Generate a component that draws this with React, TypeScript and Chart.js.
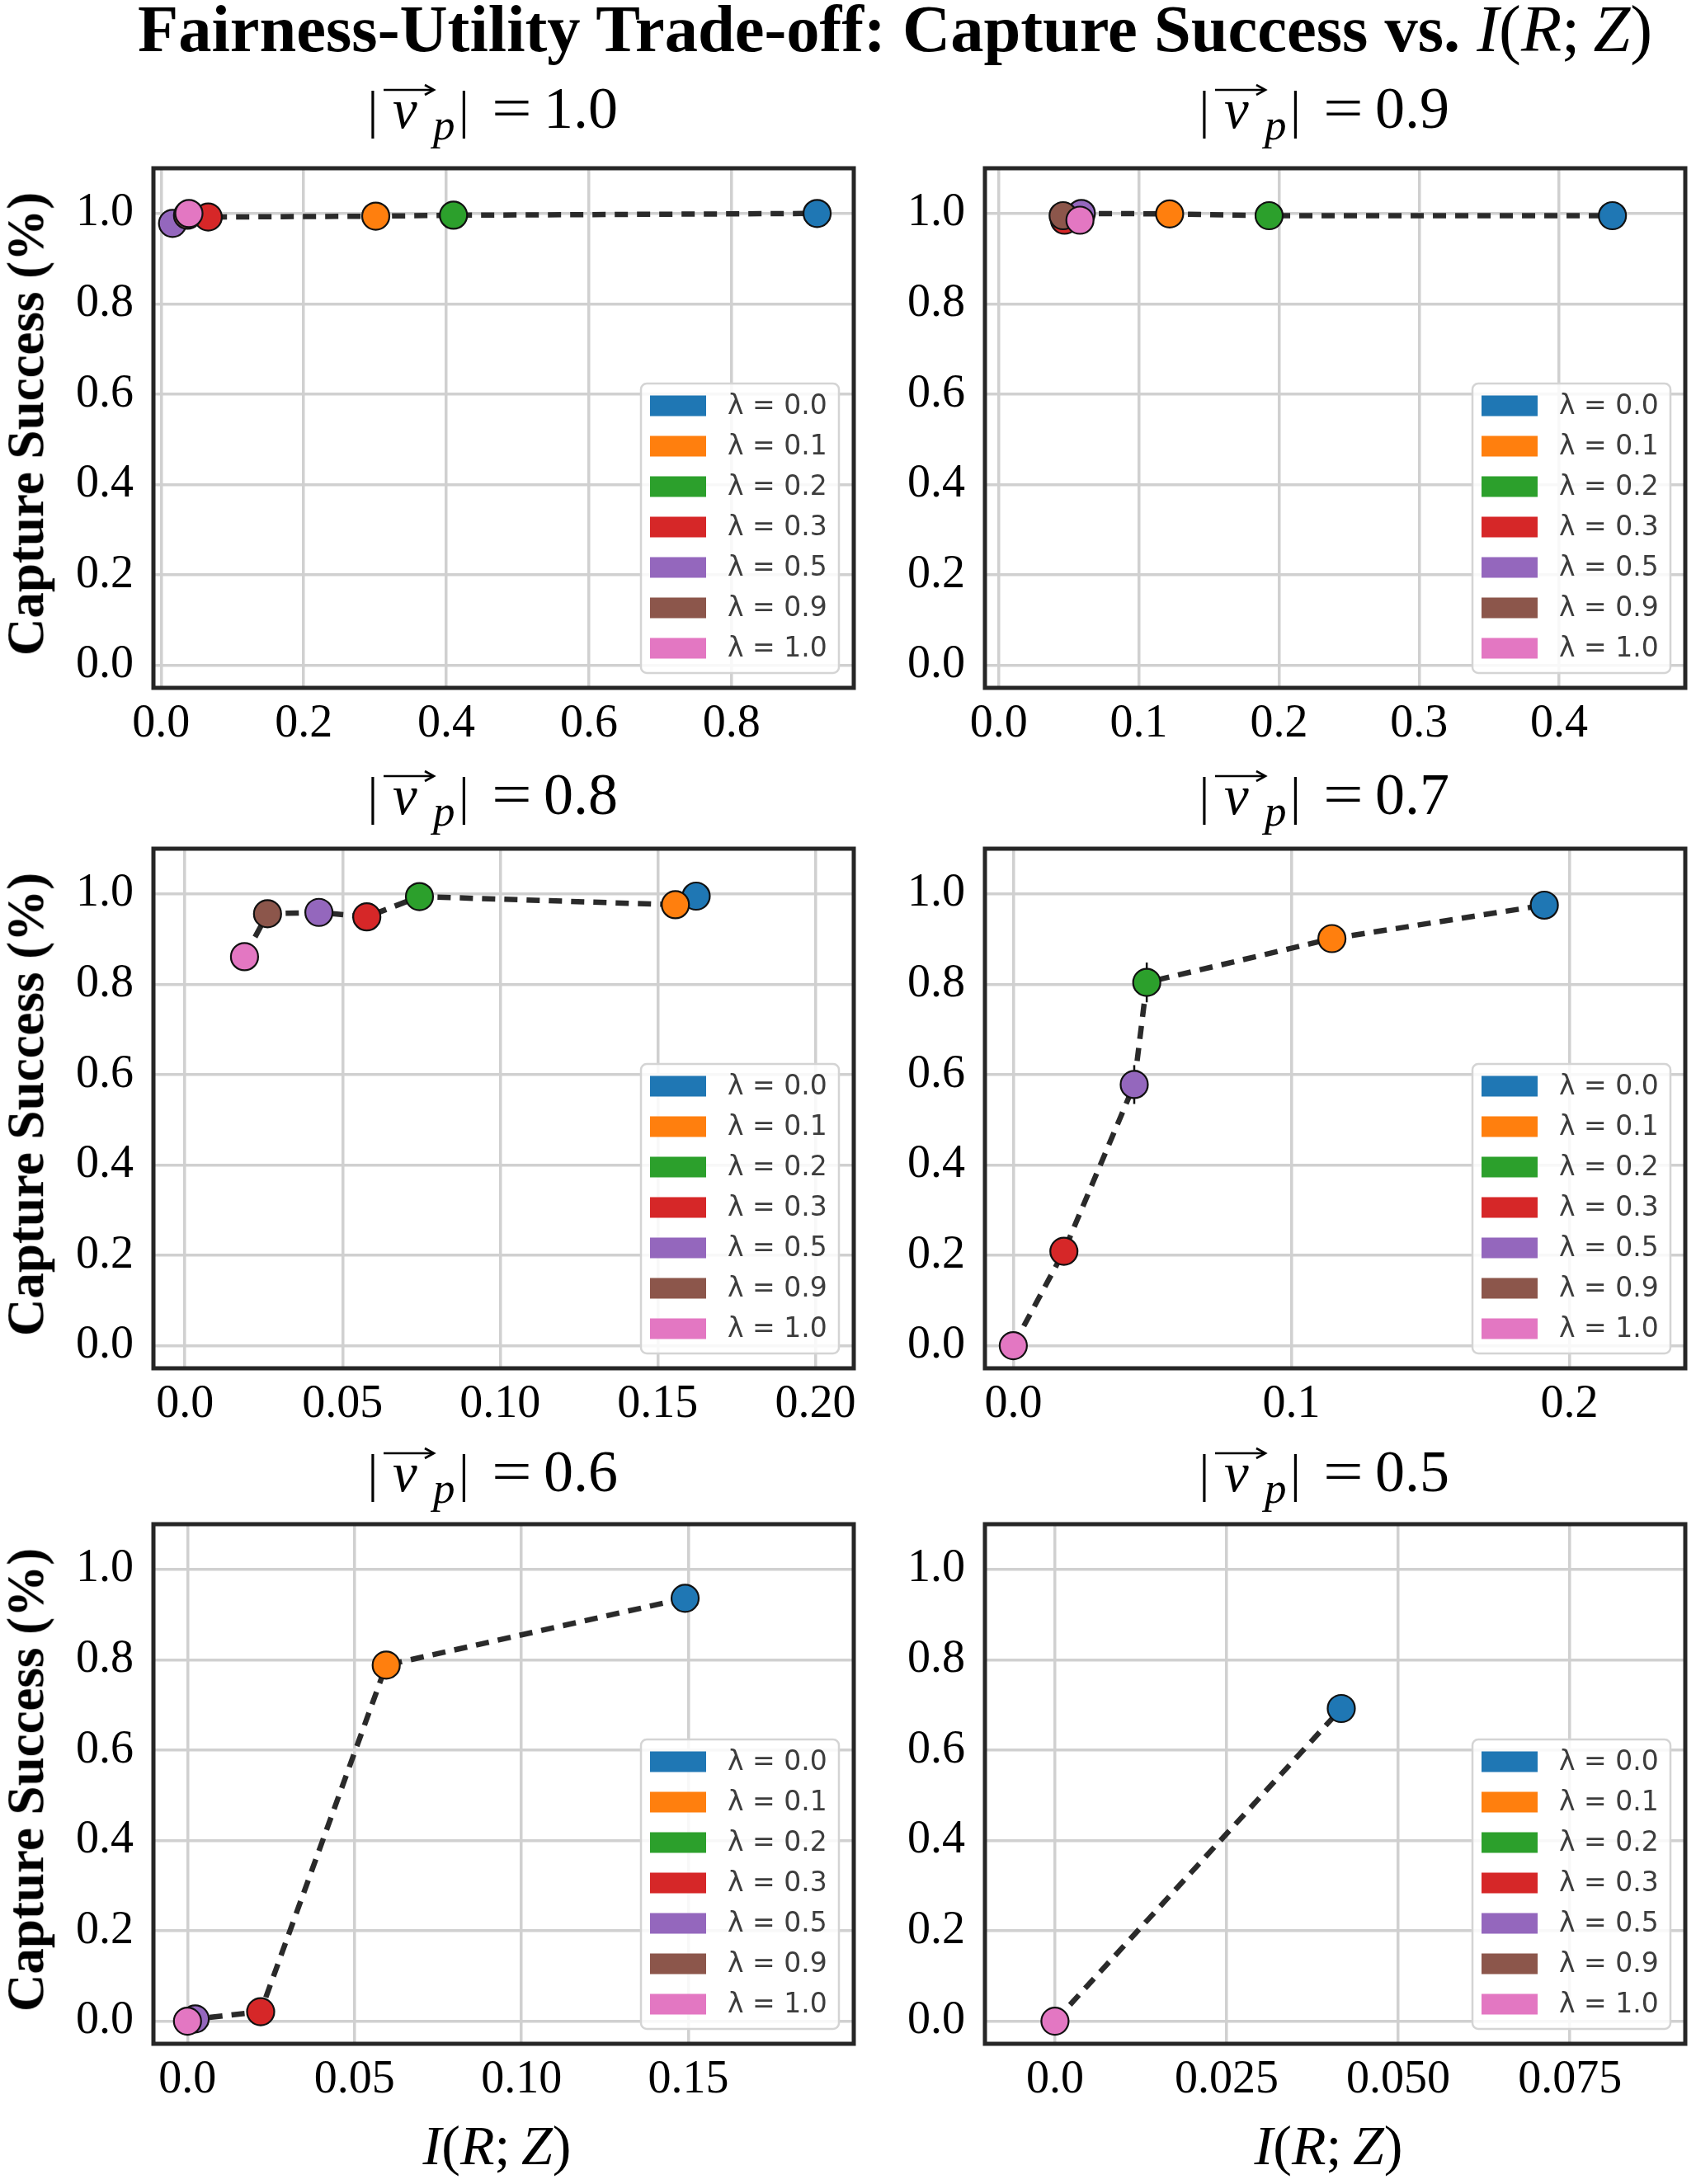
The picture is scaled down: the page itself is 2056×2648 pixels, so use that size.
import React, { useEffect, useRef } from "react";
import { Chart, registerables } from "chart.js";

Chart.register(...registerables);

const SERIF = "'Liberation Serif', 'Times New Roman', serif";
const SANS = "'DejaVu Sans', sans-serif";

// one entry per lambda setting, in plotting order
const lambdaLabels = ["λ = 0.0", "λ = 0.1", "λ = 0.2", "λ = 0.3", "λ = 0.5", "λ = 0.9", "λ = 1.0"];
const lambdaColors = ["#1f77b4", "#ff7f0e", "#2ca02c", "#d62728", "#9467bd", "#8c564b", "#e377c2"];

// |v_p| = 1.0
const v10X = [0.92, 0.301, 0.41, 0.066, 0.016, 0.037, 0.039];
const v10Y = [1.0, 0.994, 0.996, 0.992, 0.978, 0.996, 1.0];
const v10Err = [0, 0, 0, 0, 0, 0, 0];
// |v_p| = 0.9
const v09X = [0.438, 0.122, 0.193, 0.047, 0.059, 0.046, 0.058];
const v09Y = [0.995, 0.999, 0.995, 0.985, 1.0, 0.995, 0.985];
const v09Err = [0, 0, 0, 0, 0, 0, 0];
// |v_p| = 0.8
const v08X = [0.1622, 0.1556, 0.0744, 0.0577, 0.0425, 0.0262, 0.0189];
const v08Y = [0.995, 0.976, 0.994, 0.949, 0.959, 0.956, 0.861];
const v08Err = [0, 0, 0, 0, 0, 0, 0];
// |v_p| = 0.7
const v07X = [0.191, 0.1146, 0.048, 0.0182, 0.0435, null, 0.0];
const v07Y = [0.975, 0.901, 0.804, 0.209, 0.578, null, 0.0];
const v07Err = [0, 0, 0.044, 0, 0.043, 0, 0];
// |v_p| = 0.6
const v06X = [0.149, 0.0595, null, 0.0219, 0.0023, null, 0.0];
const v06Y = [0.936, 0.788, null, 0.021, 0.005, null, 0.0];
const v06Err = [0, 0, 0, 0, 0, 0, 0];
// |v_p| = 0.5
const v05X = [0.0417, null, null, null, null, null, 0.0];
const v05Y = [0.692, null, null, null, null, null, 0.0];
const v05Err = [0, 0, 0, 0, 0, 0, 0];

const yTicks = [0, 0.2, 0.4, 0.6, 0.8, 1.0];
const yTickLabels = ["0.0", "0.2", "0.4", "0.6", "0.8", "1.0"];

const xTicks10 = [0, 0.2, 0.4, 0.6, 0.8];
const xTickLabels10 = ["0.0", "0.2", "0.4", "0.6", "0.8"];
const xTicks09 = [0, 0.1, 0.2, 0.3, 0.4];
const xTickLabels09 = ["0.0", "0.1", "0.2", "0.3", "0.4"];
const xTicks08 = [0, 0.05, 0.1, 0.15, 0.2];
const xTickLabels08 = ["0.0", "0.05", "0.10", "0.15", "0.20"];
const xTicks07 = [0, 0.1, 0.2];
const xTickLabels07 = ["0.0", "0.1", "0.2"];
const xTicks06 = [0, 0.05, 0.1, 0.15];
const xTickLabels06 = ["0.0", "0.05", "0.10", "0.15"];
const xTicks05 = [0, 0.025, 0.05, 0.075];
const xTickLabels05 = ["0.0", "0.025", "0.050", "0.075"];

type Panel = {
  speed: string;
  xs: (number | null)[];
  ys: (number | null)[];
  errs: number[];
  xMin: number;
  xMax: number;
  xTicks: number[];
  xTickLabels: string[];
};

const panels: Panel[] = [
  { speed: "1.0", xs: v10X, ys: v10Y, errs: v10Err, xMin: -0.0108, xMax: 0.9714, xTicks: xTicks10, xTickLabels: xTickLabels10 },
  { speed: "0.9", xs: v09X, ys: v09Y, errs: v09Err, xMin: -0.0098, xMax: 0.49, xTicks: xTicks09, xTickLabels: xTickLabels09 },
  { speed: "0.8", xs: v08X, ys: v08Y, errs: v08Err, xMin: -0.01, xMax: 0.2122, xTicks: xTicks08, xTickLabels: xTickLabels08 },
  { speed: "0.7", xs: v07X, ys: v07Y, errs: v07Err, xMin: -0.0102, xMax: 0.2417, xTicks: xTicks07, xTickLabels: xTickLabels07 },
  { speed: "0.6", xs: v06X, ys: v06Y, errs: v06Err, xMin: -0.0102, xMax: 0.1995, xTicks: xTicks06, xTickLabels: xTickLabels06 },
  { speed: "0.5", xs: v05X, ys: v05Y, errs: v05Err, xMin: -0.0102, xMax: 0.0918, xTicks: xTicks05, xTickLabels: xTickLabels05 },
];

// page layout (px)
const COL_LEFT = [186, 1194];
const ROW_TOP = [204, 1029, 1848];
const SUB_BASE = [155, 987, 1808];
const PLOT_W = 849;
const PLOT_H = 630;
const Y_W = 150;
const PAD_T = 80;
const PAD_R = 50;
const X_H = 80;

const topFor = (baseline: number, size: number) => baseline - 0.9375 * size;

const ScatterPanel: React.FC<{ panel: Panel }> = ({ panel }) => {
  const canvasRef = useRef<HTMLCanvasElement>(null);

  useEffect(() => {
    const ctx = canvasRef.current?.getContext("2d");
    if (!ctx) return;

    const linePts = panel.xs
      .map((x, i) => ({ x, y: panel.ys[i] }))
      .filter((p) => p.x != null && p.y != null)
      .sort((a, b) => (a.x as number) - (b.x as number));

    const errorBars = {
      id: "errorBars",
      beforeDatasetsDraw(chart: Chart) {
        const c = chart.ctx;
        const xs = chart.scales.x;
        const ys = chart.scales.y;
        c.save();
        c.strokeStyle = "#111";
        c.lineWidth = 2.5;
        panel.errs.forEach((e, i) => {
          const x = panel.xs[i];
          const y = panel.ys[i];
          if (!e || x == null || y == null) return;
          const px = xs.getPixelForValue(x);
          c.beginPath();
          c.moveTo(px, ys.getPixelForValue(y - e));
          c.lineTo(px, ys.getPixelForValue(y + e));
          c.stroke();
        });
        c.restore();
      },
    };

    const frame = {
      id: "frame",
      afterDatasetsDraw(chart: Chart) {
        const { left, top, width, height } = chart.chartArea;
        const c = chart.ctx;
        c.save();
        c.strokeStyle = "#262626";
        c.lineWidth = 5;
        c.strokeRect(left, top, width, height);
        c.restore();
      },
    };

    const boxLegend = {
      id: "boxLegend",
      afterDraw(chart: Chart) {
        const area = chart.chartArea;
        const c = chart.ctx;
        const w = 240;
        const h = 351;
        const x0 = area.right - 18 - w;
        const y0 = area.bottom - 18 - h;
        c.save();
        c.beginPath();
        c.roundRect(x0, y0, w, h, 7);
        c.fillStyle = "rgba(255,255,255,0.85)";
        c.fill();
        c.strokeStyle = "#d4d4d4";
        c.lineWidth = 2.5;
        c.stroke();
        c.font = `33px ${SANS}`;
        c.textBaseline = "middle";
        c.textAlign = "left";
        lambdaLabels.forEach((lab, i) => {
          const cy = y0 + 27 + i * 49;
          c.fillStyle = lambdaColors[i];
          c.fillRect(x0 + 11, cy - 12.5, 68, 25);
          c.fillStyle = "#3d3d3d";
          c.fillText(lab, x0 + 105, cy + 1);
        });
        c.restore();
      },
    };

    const chart = new Chart(ctx, {
      type: "scatter",
      data: {
        datasets: [
          {
            label: "trend",
            data: linePts as any,
            showLine: true,
            borderColor: "#2a2a2a",
            borderWidth: 6.5,
            borderDash: [16, 11],
            pointRadius: 0,
            order: 20,
            clip: false as any,
          },
          ...lambdaLabels.map((lab, i) => ({
            label: lab,
            data:
              panel.xs[i] == null ? [] : [{ x: panel.xs[i] as number, y: panel.ys[i] as number }],
            backgroundColor: lambdaColors[i],
            borderColor: "#111",
            borderWidth: 2.2,
            pointRadius: 16.5,
            pointHoverRadius: 16.5,
            order: 10 - i,
            clip: false as any,
          })),
        ],
      },
      options: {
        animation: false,
        responsive: false,
        events: [],
        layout: { padding: { top: PAD_T, right: PAD_R, left: 0, bottom: 0 } },
        plugins: { legend: { display: false }, tooltip: { enabled: false } },
        scales: {
          x: {
            type: "linear",
            min: panel.xMin,
            max: panel.xMax,
            afterBuildTicks: (s: any) => {
              s.ticks = panel.xTicks.map((v) => ({ value: v }));
            },
            afterFit: (s: any) => {
              s.height = X_H;
            },
            ticks: {
              callback: (_v: any, i: number) => panel.xTickLabels[i],
              font: { family: SERIF, size: 56 },
              color: "#000",
              padding: 11,
              maxRotation: 0,
              autoSkip: false,
            },
            grid: { color: "#d0d0d0", lineWidth: 3.5, drawTicks: false },
            border: { display: false },
          },
          y: {
            type: "linear",
            min: -0.05,
            max: 1.1,
            afterBuildTicks: (s: any) => {
              s.ticks = yTicks.map((v) => ({ value: v }));
            },
            afterFit: (s: any) => {
              s.width = Y_W;
            },
            ticks: {
              callback: (_v: any, i: number) => yTickLabels[i],
              font: { family: SERIF, size: 56 },
              color: "#000",
              padding: 24,
              autoSkip: false,
            },
            grid: { color: "#d0d0d0", lineWidth: 3.5, drawTicks: false },
            border: { display: false },
          },
        },
      },
      plugins: [errorBars, frame, boxLegend],
    });

    return () => {
      chart.destroy();
    };
  }, [panel]);

  return (
    <canvas
      ref={canvasRef}
      width={Y_W + PLOT_W + PAD_R}
      height={PAD_T + PLOT_H + X_H}
      style={{ display: "block", width: Y_W + PLOT_W + PAD_R, height: PAD_T + PLOT_H + X_H }}
    />
  );
};

// |v_p| = value, laid out piece by piece like the mathtext original
const Speed: React.FC<{ value: string; left: number; baseline: number }> = ({ value, left, baseline }) => {
  const part = (x: number, fs: number, shift = 0, extra: React.CSSProperties = {}): React.CSSProperties => ({
    position: "absolute",
    left: x,
    top: shift - 0.9375 * fs,
    fontSize: fs,
    lineHeight: `${1.2 * fs}px`,
    whiteSpace: "nowrap",
    ...extra,
  });
  return (
    <div style={{ position: "absolute", left, top: baseline }}>
      <span style={part(-4.5, 64)}>|</span>
      <span style={part(26, 67, 0, { fontStyle: "italic" })}>v</span>
      <svg width={62} height={14} style={{ position: "absolute", left: 15, top: -53, overflow: "visible" }}>
        <path d="M0 7 H60" stroke="#000" strokeWidth={2.6} fill="none" />
        <path d="M50 1 L61 7 L50 13" stroke="#000" strokeWidth={2.6} fill="none" />
      </svg>
      <span style={part(75, 53, 15, { fontStyle: "italic" })}>p</span>
      <span style={part(106, 64)}>|</span>
      <span style={part(145.5, 72, 0, { transform: "scaleX(1.2)", transformOrigin: "left center" })}>=</span>
      <span style={part(209, 72)}>{value}</span>
    </div>
  );
};

const RZ: React.FC = () => (
  <span style={{ fontWeight: 400 }}>
    <i>I</i>(<i>R</i>;<span style={{ marginLeft: "0.2em" }} />
    <i>Z</i>)
  </span>
);

const App: React.FC = () => {
  return (
    <div
      style={{
        position: "absolute",
        left: 0,
        top: 0,
        width: 2056,
        height: 2648,
        overflow: "hidden",
        background: "#fff",
        fontFamily: SERIF,
        color: "#000",
      }}
    >
      <div
        style={{
          position: "absolute",
          left: 167,
          top: topFor(62, 80.5),
          fontSize: 80.5,
          lineHeight: `${1.2 * 80.5}px`,
          fontWeight: 700,
          whiteSpace: "nowrap",
        }}
      >
        Fairness-Utility Trade-off: Capture Success vs. <RZ />
      </div>

      {panels.map((p, i) => {
        const col = i % 2;
        const row = Math.floor(i / 2);
        const left = COL_LEFT[col];
        const top = ROW_TOP[row];
        return (
          <React.Fragment key={p.speed}>
            <Speed value={p.speed} left={left + 264} baseline={SUB_BASE[row]} />
            <div style={{ position: "absolute", left: left - Y_W, top: top - PAD_T }}>
              <ScatterPanel panel={p} />
            </div>
            {col === 0 && (
              <div
                style={{
                  position: "absolute",
                  left: 32,
                  top: top + PLOT_H / 2 - 5,
                  transform: "translate(-50%, -50%) rotate(-90deg)",
                  fontSize: 63,
                  lineHeight: "75.6px",
                  fontWeight: 700,
                  whiteSpace: "nowrap",
                }}
              >
                Capture Success (%)
              </div>
            )}
            {row === 2 && (
              <div
                style={{
                  position: "absolute",
                  left: left + PLOT_W / 2 - 8,
                  top: topFor(2625, 68),
                  transform: "translateX(-50%)",
                  fontSize: 68,
                  lineHeight: `${1.2 * 68}px`,
                  whiteSpace: "nowrap",
                }}
              >
                <RZ />
              </div>
            )}
          </React.Fragment>
        );
      })}
    </div>
  );
};

export default App;
